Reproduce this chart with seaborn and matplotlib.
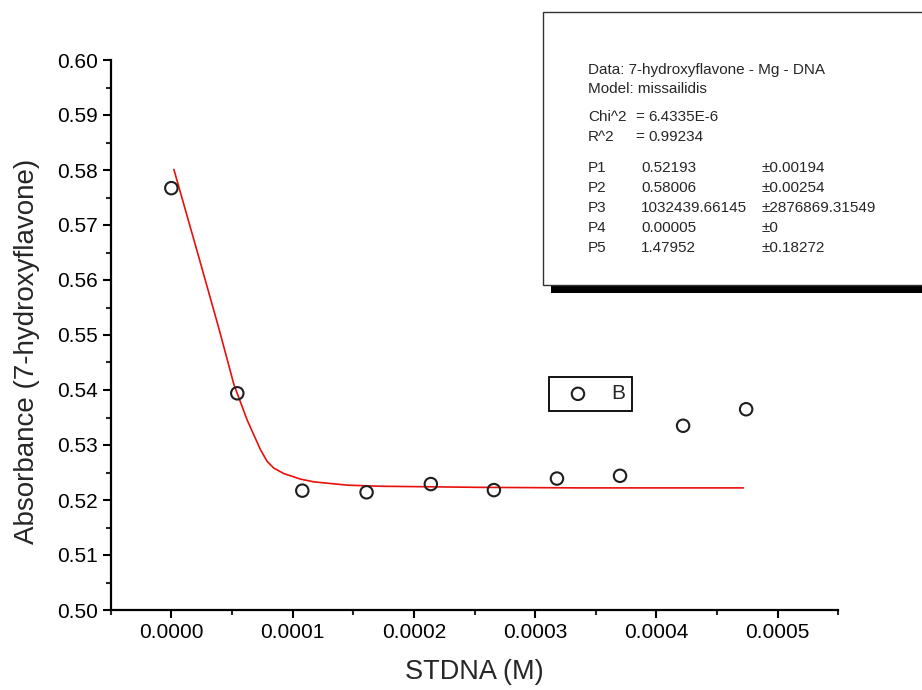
import matplotlib
matplotlib.use("Agg")
import matplotlib.pyplot as plt
from matplotlib.ticker import MultipleLocator, FormatStrFormatter
from matplotlib.patches import Rectangle
import seaborn as sns
import pandas as pd

# measured points (STDNA concentration vs absorbance)
conc = [0.0, 0.0000544, 0.000108, 0.000161, 0.000214, 0.000266, 0.000318, 0.000370, 0.000422, 0.000474]
absorb = [0.5767, 0.5394, 0.5217, 0.5214, 0.5229, 0.5218, 0.5239, 0.5244, 0.5335, 0.5365]

# fitted curve
fit_x = [0.0000021, 0.0000217, 0.0000392, 0.0000516, 0.0000626, 0.0000736, 0.0000791, 0.0000845,
         0.0000928, 0.0001065, 0.0001175, 0.000145, 0.0001724, 0.0002548, 0.0003372, 0.0004717]
fit_y = [0.5801, 0.5649, 0.5512, 0.5410, 0.5345, 0.5291, 0.5270, 0.5258,
         0.5248, 0.5238, 0.5233, 0.5227, 0.5225, 0.5223, 0.5222, 0.5222]

# fit report text
box_head = ["Data: 7-hydroxyflavone - Mg - DNA", "Model: missailidis"]
stat_names = ["Chi^2", "R^2"]
stat_vals = ["6.4335E-6", "0.99234"]
par_names = ["P1", "P2", "P3", "P4", "P5"]
par_vals = ["0.52193", "0.58006", "1032439.66145", "0.00005", "1.47952"]
par_errs = ["\u00b10.00194", "\u00b10.00254", "\u00b12876869.31549", "\u00b10", "\u00b10.18272"]

df = pd.DataFrame({"x": conc, "y": absorb})
fit = pd.DataFrame({"x": fit_x, "y": fit_y})

sns.set_style("ticks")
plt.rcParams["font.family"] = ["Liberation Sans", "DejaVu Sans"]

fig = plt.figure(figsize=(9.22, 6.9), dpi=100)
ax = fig.add_axes([110.7 / 922, 80 / 690, 727.6 / 922, 550 / 690])

sns.lineplot(data=fit, x="x", y="y", ax=ax, color="#e8100a", linewidth=1.2, legend=False)
sns.scatterplot(data=df, x="x", y="y", ax=ax, marker="o", s=80, facecolor="none",
                edgecolor="#1e1e1e", linewidth=1.5, label="B", zorder=3)

ax.set_xlim(-0.00005, 0.00055)
ax.set_ylim(0.50, 0.60)
ax.xaxis.set_major_locator(MultipleLocator(0.0001))
ax.xaxis.set_minor_locator(MultipleLocator(0.00005))
ax.yaxis.set_major_locator(MultipleLocator(0.01))
ax.yaxis.set_minor_locator(MultipleLocator(0.005))
ax.xaxis.set_major_formatter(FormatStrFormatter("%.4f"))
ax.yaxis.set_major_formatter(FormatStrFormatter("%.2f"))
ax.tick_params(which="major", direction="out", length=6, width=1.5, labelsize=15, colors="black")
ax.tick_params(which="minor", direction="out", length=3.5, width=1.5)
for side in ["top", "right"]:
    ax.spines[side].set_visible(False)
for side in ["left", "bottom"]:
    ax.spines[side].set_linewidth(1.6)
    ax.spines[side].set_color("black")

ax.set_xlabel("STDNA (M)", fontsize=19.5, labelpad=12)
ax.set_ylabel("Absorbance (7-hydroxyflavone)", fontsize=20)
ax.yaxis.set_label_coords(-0.097, 0.471)

leg = ax.legend(loc="upper left", bbox_to_anchor=(0.6024, 0.4236), borderaxespad=0,
                fancybox=False, edgecolor="black", framealpha=1, fontsize=15,
                handlelength=2.08, handletextpad=0.54, borderpad=0.35)
leg.get_frame().set_linewidth(1.3)

# fit report box with its drop shadow
W, H = 922, 690
fig.add_artist(Rectangle((551 / W, (H - 293) / H), 0.5, 8 / H, transform=fig.transFigure,
                         facecolor="black", edgecolor="none"))
fig.add_artist(Rectangle((543 / W, (H - 285) / H), 0.5, 273 / H, transform=fig.transFigure,
                         facecolor="white", edgecolor="#333333", linewidth=1.0))

def put(x, y, s):
    fig.text(x / W, (H - y) / H, s, fontsize=11, va="center", ha="left")

for i, s in enumerate(box_head):
    put(588, 70 + 19 * i, s)
for i in range(2):
    put(588, 117 + 20 * i, stat_names[i])
    put(635, 117 + 20 * i, "=")
    put(648, 117 + 20 * i, stat_vals[i])
for i in range(5):
    put(588, 168 + 20 * i, par_names[i])
    put(641, 168 + 20 * i, par_vals[i])
    put(761, 168 + 20 * i, par_errs[i])

fig.savefig("out.png", dpi=100)
